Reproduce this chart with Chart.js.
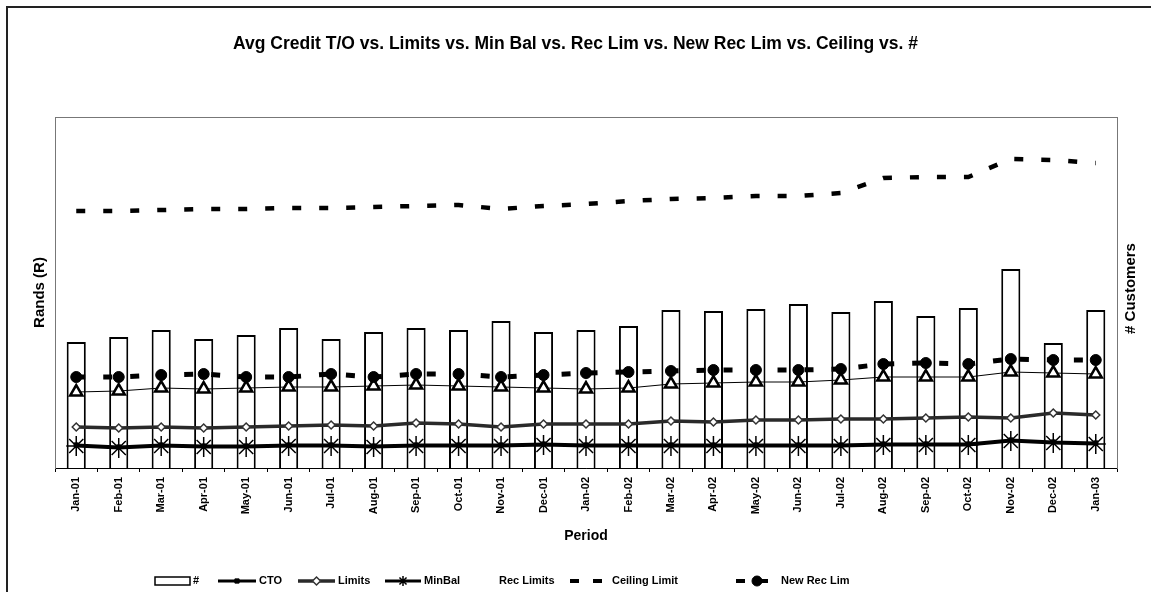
<!DOCTYPE html>
<html>
<head>
<meta charset="utf-8">
<script src="https://cdn.jsdelivr.net/npm/chart.js@4.4.1/dist/chart.umd.min.js"></script>
<style>
html, body { margin: 0; padding: 0; background: #fff; }
#wrap { position: relative; width: 1151px; height: 592px; }
</style>
</head>
<body>
<div id="wrap"><canvas id="chart" width="1151" height="592"></canvas></div>
<script>
// data (Rands on left axis, customers on right axis)
const periods = ['Jan-01', 'Feb-01', 'Mar-01', 'Apr-01', 'May-01', 'Jun-01', 'Jul-01', 'Aug-01', 'Sep-01',
    'Oct-01', 'Nov-01', 'Dec-01', 'Jan-02', 'Feb-02', 'Mar-02', 'Apr-02', 'May-02', 'Jun-02', 'Jul-02',
    'Aug-02', 'Sep-02', 'Oct-02', 'Nov-02', 'Dec-02', 'Jan-03'];
const customers = [630, 655, 690, 645, 665, 700, 645, 680, 700, 690, 735, 680, 690, 710, 790, 785, 795,
    820, 780, 835, 760, 800, 995, 625, 790];
const cto = [2300, 2100, 2300, 2200, 2200, 2300, 2300, 2200, 2300, 2300, 2300, 2400, 2300, 2300, 2300,
    2300, 2300, 2300, 2300, 2400, 2400, 2400, 2800, 2600, 2500];
const limits = [4100, 4000, 4100, 4000, 4100, 4200, 4300, 4200, 4500, 4400, 4100, 4400, 4400, 4400, 4700,
    4600, 4800, 4800, 4900, 4900, 5000, 5100, 5000, 5500, 5300];
const minBal = [2200, 2000, 2200, 2100, 2100, 2200, 2200, 2100, 2200, 2200, 2200, 2300, 2200, 2200, 2200,
    2200, 2200, 2200, 2200, 2300, 2300, 2300, 2700, 2500, 2400];
const recLimits = [7600, 7700, 8000, 7900, 8000, 8100, 8100, 8200, 8300, 8200, 8100, 8000, 7900, 8000, 8400,
    8500, 8600, 8600, 8800, 9100, 9100, 9100, 9600, 9500, 9400];
const ceilingLimit = [25700, 25700, 25800, 25900, 25900, 26000, 26000, 26100, 26200, 26300, 25900, 26200,
    26400, 26700, 26900, 27000, 27200, 27200, 27500, 29000, 29100, 29100, 30900, 30800, 30500];
const newRecLim = [9100, 9100, 9300, 9400, 9100, 9100, 9400, 9100, 9400, 9400, 9100, 9300, 9500, 9600, 9700,
    9800, 9800, 9800, 9900, 10400, 10500, 10400, 10900, 10800, 10800];

const FONT = 'Liberation Sans, Arial, Helvetica, sans-serif';

// legend placement (sample start, text start) in the same order as datasets
const legendSampleX = [155, 218, 298, 385, 460, 570, 736];
const legendTextX = [193, 259, 338, 424, 499, 612, 781];
const legendY = 581;

const framePlugin = {
    id: 'frame',
    beforeDraw(chart) {
        const ctx = chart.ctx;
        ctx.save();
        ctx.fillStyle = '#fff';
        ctx.fillRect(0, 0, chart.width, chart.height);
        ctx.strokeStyle = '#222';
        ctx.lineWidth = 2;
        ctx.beginPath();
        ctx.moveTo(7, chart.height);
        ctx.lineTo(7, 7);
        ctx.lineTo(chart.width, 7);
        ctx.stroke();
        const a = chart.chartArea;
        ctx.strokeStyle = '#777';
        ctx.lineWidth = 1;
        ctx.strokeRect(a.left + 0.5, a.top + 0.5, a.right - a.left, a.bottom - a.top);
        ctx.restore();
    },
    afterDraw(chart) {
        const ctx = chart.ctx;
        ctx.save();
        // right axis title, reads bottom to top
        const a = chart.chartArea;
        ctx.translate(1131, (a.top + a.bottom) / 2 - 4);
        ctx.rotate(-Math.PI / 2);
        ctx.fillStyle = '#000';
        ctx.font = 'bold 15px ' + FONT;
        ctx.textAlign = 'center';
        ctx.textBaseline = 'middle';
        ctx.fillText('# Customers', 0, 0);
        ctx.restore();

        // legend
        ctx.save();
        ctx.font = 'bold 11px ' + FONT;
        ctx.textBaseline = 'middle';
        ctx.textAlign = 'left';
        chart.data.datasets.forEach((ds, i) => {
            const x0 = legendSampleX[i];
            const w = legendTextX[i] - x0 - 3;
            const y = legendY;
            ctx.save();
            if (ds.type === 'bar') {
                ctx.fillStyle = '#fff';
                ctx.strokeStyle = '#000';
                ctx.lineWidth = 1.5;
                ctx.fillRect(x0, y - 4, w, 8);
                ctx.strokeRect(x0, y - 4, w, 8);
            } else if (!ds.legendHidden) {
                ctx.strokeStyle = ds.borderColor;
                ctx.lineWidth = Math.min(ds.borderWidth, 4);
                ctx.setLineDash(ds.borderDash ? [9, 14] : []);
                ctx.beginPath();
                ctx.moveTo(x0, y);
                ctx.lineTo(x0 + w, y);
                ctx.stroke();
                ctx.setLineDash([]);
                if (ds.pointRadius > 0) {
                    ctx.fillStyle = ds.pointBackgroundColor;
                    ctx.strokeStyle = ds.pointBorderColor;
                    ctx.lineWidth = ds.pointBorderWidth;
                    Chart.helpers.drawPoint(ctx, {
                        pointStyle: ds.pointStyle,
                        radius: Math.min(ds.pointRadius, 5),
                        borderWidth: ds.pointBorderWidth,
                        rotation: 0
                    }, x0 + w / 2, y);
                }
            }
            ctx.restore();
            ctx.fillStyle = '#000';
            ctx.fillText(ds.label, legendTextX[i], y);
        });
        ctx.restore();
    }
};

new Chart(document.getElementById('chart'), {
    type: 'bar',
    data: {
        labels: periods,
        datasets: [
            {
                type: 'bar', label: '#', data: customers, yAxisID: 'y1',
                backgroundColor: '#fff', borderColor: '#000', borderWidth: 2,
                barPercentage: 0.45, categoryPercentage: 1, order: 10
            },
            {
                type: 'line', label: 'CTO', data: cto, yAxisID: 'y',
                borderColor: '#000', borderWidth: 3, pointStyle: 'rect', pointRadius: 3,
                pointBackgroundColor: '#000', pointBorderColor: '#000', pointBorderWidth: 1, order: 4
            },
            {
                type: 'line', label: 'Limits', data: limits, yAxisID: 'y',
                borderColor: '#2a2a2a', borderWidth: 3.5, pointStyle: 'rectRot', pointRadius: 4,
                pointBackgroundColor: '#fff', pointBorderColor: '#333', pointBorderWidth: 1.5, order: 3
            },
            {
                type: 'line', label: 'MinBal', data: minBal, yAxisID: 'y',
                borderColor: '#000', borderWidth: 3, pointStyle: 'star', pointRadius: 10,
                pointBackgroundColor: '#000', pointBorderColor: '#000', pointBorderWidth: 1.5, order: 2
            },
            {
                type: 'line', label: 'Rec Limits', data: recLimits, yAxisID: 'y', legendHidden: true,
                borderColor: '#000', borderWidth: 1, pointStyle: 'triangle', pointRadius: 7,
                pointBackgroundColor: '#fff', pointBorderColor: '#000', pointBorderWidth: 2.5, order: 2
            },
            {
                type: 'line', label: 'Ceiling Limit', data: ceilingLimit, yAxisID: 'y',
                borderColor: '#000', borderWidth: 4.5, borderDash: [9, 18], pointRadius: 0, order: 1
            },
            {
                type: 'line', label: 'New Rec Lim', data: newRecLim, yAxisID: 'y',
                borderColor: '#000', borderWidth: 5, borderDash: [9, 18], pointStyle: 'circle', pointRadius: 5.5,
                pointBackgroundColor: '#000', pointBorderColor: '#000', pointBorderWidth: 1, order: 1
            }
        ]
    },
    options: {
        responsive: false,
        animation: false,
        events: [],
        devicePixelRatio: 1,
        layout: { padding: { left: 0, right: 0, top: 0, bottom: 43 } },
        plugins: {
            legend: { display: false },
            tooltip: { enabled: false },
            title: {
                display: true,
                text: 'Avg Credit T/O vs. Limits vs. Min Bal vs. Rec Lim vs. New Rec Lim vs. Ceiling vs. #',
                color: '#000',
                font: { family: FONT, size: 17.5, weight: 'bold' },
                padding: { top: 33.5, bottom: 62.5 }
            }
        },
        scales: {
            x: {
                ticks: {
                    color: '#000', font: { family: FONT, size: 11, weight: 'bold' },
                    maxRotation: 90, minRotation: 90, autoSkip: false, padding: 5
                },
                grid: { display: true, drawOnChartArea: false, drawTicks: true, tickLength: 4, color: '#000', offset: true },
                border: { display: true, color: '#000', width: 1 },
                title: {
                    display: true, text: 'Period', color: '#000',
                    font: { family: FONT, size: 14, weight: 'bold' },
                    padding: { top: 0, bottom: 4 }
                },
                afterFit(s) { s.height = 81; }
            },
            y: {
                position: 'left', min: 0, max: 35100,
                ticks: { display: false },
                grid: { display: false },
                border: { display: true, color: '#777' },
                title: {
                    display: true, text: 'Rands (R)', color: '#000',
                    font: { family: FONT, size: 15, weight: 'bold' },
                    padding: { top: 31, bottom: 0 }
                },
                afterFit(s) { s.width = 55; }
            },
            y1: {
                position: 'right', min: 0, max: 1755,
                ticks: { display: false },
                grid: { display: false },
                border: { display: true, color: '#777' },
                afterFit(s) { s.width = 34; }
            }
        }
    },
    plugins: [framePlugin]
});
</script>
</body>
</html>
